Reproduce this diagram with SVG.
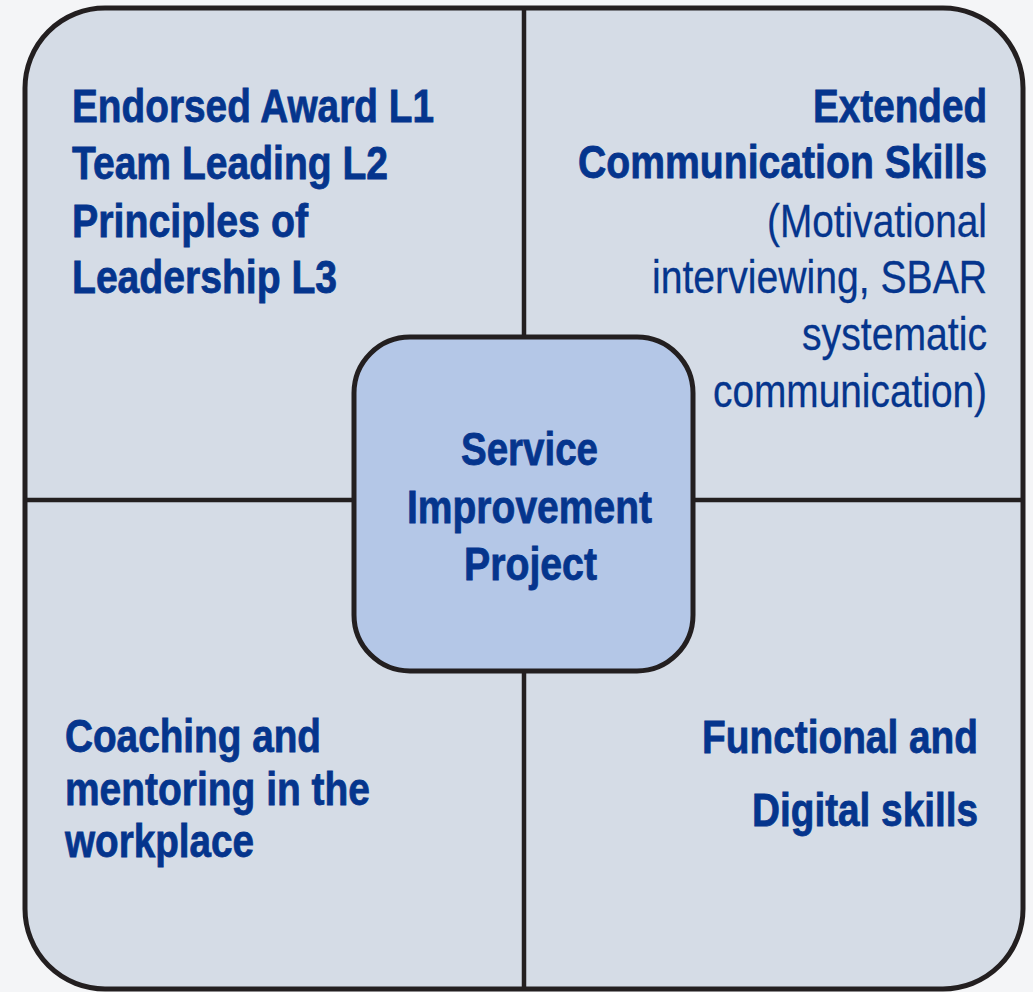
<svg xmlns="http://www.w3.org/2000/svg" width="1033" height="992" viewBox="0 0 1033 992">
  <style>
    .t { font-family: "Liberation Sans", Arial, sans-serif; font-size: 47px; fill: #05358d; }
    .b { font-weight: bold; stroke: #05358d; stroke-width: 0.8px; }
    .r { font-weight: normal; stroke: #05358d; stroke-width: 0.3px; }
    .e { text-anchor: end; }
  </style>
  <rect x="0" y="0" width="1033" height="992" fill="#f4f5f7"/>
  <g id="frame">
    <rect x="25" y="8" width="998" height="981" rx="80" ry="80" fill="#d5dce6" stroke="#231f20" stroke-width="5"/>
  </g>
  <g id="connectors" stroke="#231f20" stroke-width="4.5">
    <line x1="524" y1="8" x2="524" y2="989"/>
    <line x1="25" y1="500" x2="1023" y2="500"/>
  </g>
  <g id="q-top-left">
    <text class="t b" x="72" y="122" textLength="362" lengthAdjust="spacingAndGlyphs">Endorsed Award L1</text>
    <text class="t b" x="72" y="179" textLength="316" lengthAdjust="spacingAndGlyphs">Team Leading L2</text>
    <text class="t b" x="72" y="237" textLength="236" lengthAdjust="spacingAndGlyphs">Principles of</text>
    <text class="t b" x="72" y="293" textLength="265" lengthAdjust="spacingAndGlyphs">Leadership L3</text>
  </g>
  <g id="q-top-right">
    <text class="t b e" x="987" y="122" textLength="174" lengthAdjust="spacingAndGlyphs">Extended</text>
    <text class="t b e" x="987" y="178" textLength="409" lengthAdjust="spacingAndGlyphs">Communication Skills</text>
    <text class="t r e" x="987" y="237" textLength="220" lengthAdjust="spacingAndGlyphs">(Motivational</text>
    <text class="t r e" x="987" y="293" textLength="335" lengthAdjust="spacingAndGlyphs">interviewing, SBAR</text>
    <text class="t r e" x="987" y="350" textLength="185" lengthAdjust="spacingAndGlyphs">systematic</text>
    <text class="t r e" x="987" y="407" textLength="274" lengthAdjust="spacingAndGlyphs">communication)</text>
  </g>
  <g id="q-bottom-left">
    <text class="t b" x="65" y="752" textLength="256" lengthAdjust="spacingAndGlyphs">Coaching and</text>
    <text class="t b" x="65" y="805" textLength="305" lengthAdjust="spacingAndGlyphs">mentoring in the</text>
    <text class="t b" x="65" y="857" textLength="189" lengthAdjust="spacingAndGlyphs">workplace</text>
  </g>
  <g id="q-bottom-right">
    <text class="t b e" x="978" y="753" textLength="276" lengthAdjust="spacingAndGlyphs">Functional and</text>
    <text class="t b e" x="978" y="826" textLength="226" lengthAdjust="spacingAndGlyphs">Digital skills</text>
  </g>
  <g id="center">
    <rect x="354" y="337" width="339" height="334" rx="56" ry="56" fill="#b4c7e7" stroke="#231f20" stroke-width="5"/>
    <text class="t b" x="461" y="465" textLength="137" lengthAdjust="spacingAndGlyphs">Service</text>
    <text class="t b" x="407" y="523" textLength="245" lengthAdjust="spacingAndGlyphs">Improvement</text>
    <text class="t b" x="464" y="580" textLength="133" lengthAdjust="spacingAndGlyphs">Project</text>
  </g>
</svg>
